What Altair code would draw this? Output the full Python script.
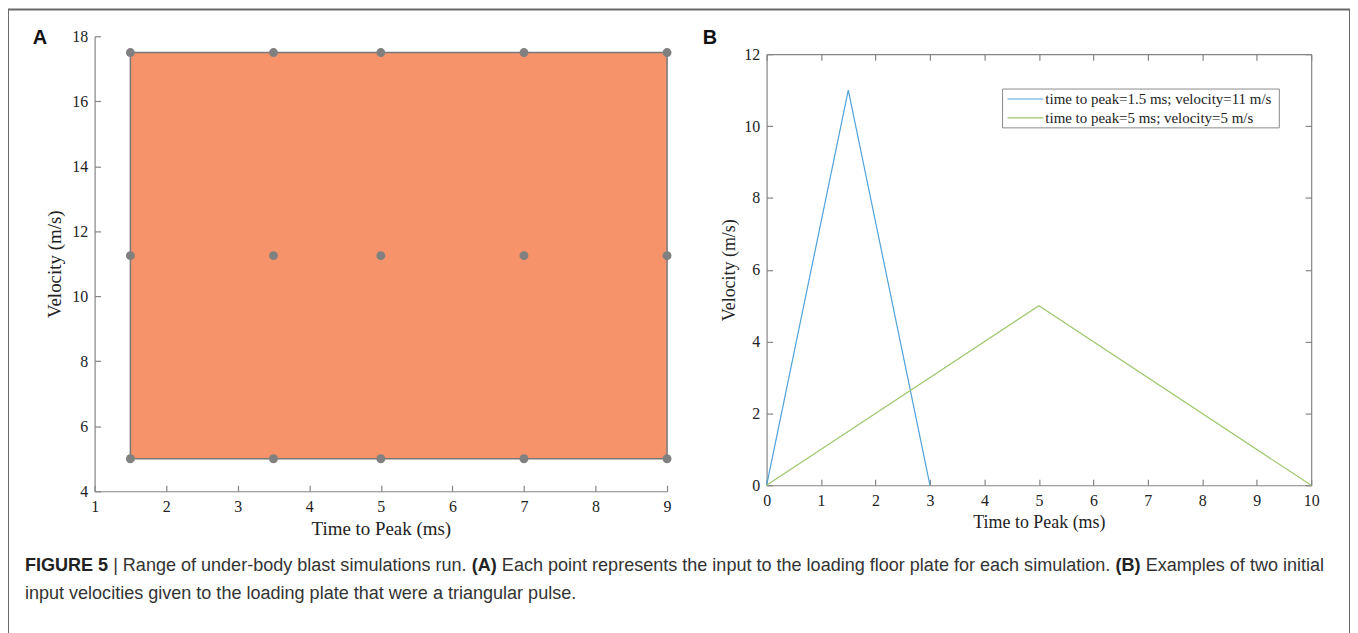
import altair as alt
import pandas as pd

# ---------------- data ----------------
# Panel A: simulation grid (time to peak, velocity)
a_times = [1.5, 3.5, 5, 7, 9]
a_velocities = [5, 11.25, 17.5]
a_xticks = [1, 2, 3, 4, 5, 6, 7, 8, 9]
a_yticks = [4, 6, 8, 10, 12, 14, 16, 18]

# Panel B: two triangular pulses
b_names = ["time to peak=1.5 ms; velocity=11 m/s", "time to peak=5 ms; velocity=5 m/s"]
b_t1 = [0, 1.5, 3]
b_v1 = [0, 11, 0]
b_t2 = [0, 5, 10]
b_v2 = [0, 5, 0]
b_colors = ["#4fa2dc", "#9dc76b"]
b_xticks = [0, 1, 2, 3, 4, 5, 6, 7, 8, 9, 10]
b_yticks = [0, 2, 4, 6, 8, 10, 12]

caption_line1 = [
    ("FIGURE 5 ", True),
    ("| Range of under-body blast simulations run. ", False),
    ("(A)", True),
    (" Each point represents the input to the loading floor plate for each simulation. ", False),
    ("(B)", True),
    (" Examples of two initial", False),
]
caption_line2 = "input velocities given to the loading plate that were a triangular pulse."

# ---------------- layout / style ----------------
W, H = 1348, 630
A_XR = [87, 662]
A_YR = [484, 27]
B_XR = [762, 1309]
B_YR = [478, 45]
AXC = "#858585"
TXC = "#222222"
SERIF = "Liberation Serif"
SANS = "Liberation Sans"
CAP_X, CAP_Y1, CAP_Y2, CAP_LINE_W = 17, 559, 587, 1305

NORMAL_W = {" ": 278, "(": 333, ")": 333, ".": 278, ",": 278, "-": 333, "|": 260,
            "a": 556, "b": 556, "c": 500, "d": 556, "e": 556, "f": 278, "g": 556, "h": 556,
            "i": 222, "j": 222, "k": 500, "l": 222, "m": 833, "n": 556, "o": 556, "p": 556,
            "q": 556, "r": 333, "s": 500, "t": 278, "u": 556, "v": 500, "w": 722, "x": 500,
            "y": 500, "z": 500, "A": 667, "B": 667, "E": 667, "F": 611, "G": 778, "I": 278,
            "R": 722, "U": 722}
BOLD_W = {" ": 278, "(": 333, ")": 333, "|": 280, "A": 722, "B": 722, "E": 667, "F": 611,
          "G": 778, "I": 278, "R": 722, "U": 722, "5": 556}


def text_units(s, bold):
    table = BOLD_W if bold else NORMAL_W
    return sum(table.get(ch, 556) for ch in s)


total_units = sum(text_units(s, b) for s, b in caption_line1)
CAP_SIZE = CAP_LINE_W * 1000 / total_units

rows = []
cx = CAP_X
for seg, bold in caption_line1:
    lead = len(seg) - len(seg.lstrip(" "))
    rows.append(dict(t=seg.strip(), px=cx + text_units(seg[:lead], bold) * CAP_SIZE / 1000,
                     py=CAP_Y1, b=bold))
    cx += text_units(seg, bold) * CAP_SIZE / 1000
rows.append(dict(t=caption_line2, px=CAP_X, py=CAP_Y2, b=False))
cap_df = pd.DataFrame(rows)

# ---------------- tables ----------------
a_pts = pd.DataFrame([(t, v) for v in a_velocities for t in a_times], columns=["t", "v"])
a_rect = pd.DataFrame({"x0": [min(a_times)], "x1": [max(a_times)],
                       "y0": [min(a_velocities)], "y1": [max(a_velocities)]})
b_df = pd.DataFrame({
    "t": b_t1 + b_t2,
    "v": b_v1 + b_v2,
    "s": [b_names[0]] * len(b_t1) + [b_names[1]] * len(b_t2),
    "i": list(range(len(b_t1))) + list(range(len(b_t2))),
})
leg_df = pd.DataFrame({"s": b_names})


def ax(**kw):
    base = dict(grid=False, domainColor=AXC, tickColor=AXC, labelColor=TXC, titleColor=TXC,
                labelFont=SERIF, titleFont=SERIF, labelFontSize=16, titleFontWeight="normal",
                labelFlush=False, labelOverlap=False, tickSize=6, domainWidth=1.2, tickWidth=1.2)
    base.update(kw)
    return alt.Axis(**base)


def sc(domain, rng):
    return alt.Scale(domain=domain, range=rng, nice=False, zero=False)


color_scale = alt.Scale(domain=b_names, range=b_colors)

# ---------------- panel A ----------------
a_rect_layer = alt.Chart(a_rect).mark_rect(fill="#f6936a", stroke="#777777", strokeWidth=1.5).encode(
    x=alt.X("x0:Q", scale=sc([1, 9], A_XR),
            axis=ax(orient="bottom", offset=-(H - A_YR[0]), values=a_xticks, ticks=False,
                    labelPadding=7, title="Time to Peak (ms)", titleFontSize=19, titlePadding=5)),
    x2="x1:Q",
    y=alt.Y("y0:Q", scale=sc([4, 18], A_YR),
            axis=ax(orient="left", offset=-A_XR[0], values=a_yticks, ticks=False,
                    labelPadding=7, title="Velocity (m/s)", titleFontSize=19, titlePadding=7)),
    y2="y1:Q",
)

a_pts_layer = alt.Chart(a_pts).mark_circle(size=80, color="#808080", opacity=1).encode(
    x=alt.X("t:Q", scale=sc([1, 9], A_XR),
            axis=ax(orient="top", offset=-A_YR[0], values=a_xticks, labels=False,
                    domain=False, title=None)),
    y=alt.Y("v:Q", scale=sc([4, 18], A_YR),
            axis=ax(orient="right", offset=-(W - A_XR[0]), values=a_yticks, labels=False,
                    domain=False, title=None)),
)

# ---------------- panel B ----------------
b_lines = alt.Chart(b_df).mark_line(strokeWidth=1.2).encode(
    x=alt.X("t:Q", scale=sc([0, 10], B_XR),
            axis=ax(orient="bottom", offset=-(H - B_YR[0]), values=b_xticks, ticks=False,
                    labelPadding=7, title="Time to Peak (ms)", titleFontSize=18, titlePadding=5)),
    y=alt.Y("v:Q", scale=sc([0, 12], B_YR),
            axis=ax(orient="left", offset=-B_XR[0], values=b_yticks, ticks=False,
                    labelPadding=7, title="Velocity (m/s)", titleFontSize=18, titlePadding=5)),
    color=alt.Color("s:N", scale=color_scale, legend=None),
    order=alt.Order("i:Q"),
)

b_ticks_in = alt.Chart(b_df).mark_point(opacity=0).encode(
    x=alt.X("t:Q", scale=sc([0, 10], B_XR),
            axis=ax(orient="top", offset=-B_YR[0], values=b_xticks, labels=False,
                    domain=False, title=None)),
    y=alt.Y("v:Q", scale=sc([0, 12], B_YR),
            axis=ax(orient="right", offset=-(W - B_XR[0]), values=b_yticks, labels=False,
                    domain=False, title=None)),
)

b_box = alt.Chart(b_df).mark_point(opacity=0).encode(
    x=alt.X("t:Q", scale=sc([0, 10], B_XR),
            axis=ax(orient="bottom", offset=-(H - B_YR[1]), values=b_xticks, labels=False,
                    domain=True, title=None)),
    y=alt.Y("v:Q", scale=sc([0, 12], B_YR),
            axis=ax(orient="left", offset=-B_XR[1], values=b_yticks, labels=False,
                    domain=True, title=None)),
)

# legend (drawn inside panel B)
leg_box = alt.Chart(pd.DataFrame({"k": [0]})).mark_rect(fill="white", stroke="#8a8a8a", strokeWidth=1).encode(
    x=alt.value(999), x2=alt.value(1277), y=alt.value(80), y2=alt.value(119)
)
leg_y = alt.Y("s:N", scale=alt.Scale(type="point", domain=b_names, range=[90, 109], padding=0), axis=None)
leg_rules = alt.Chart(leg_df).mark_rule(strokeWidth=1.2).encode(
    x=alt.value(1004), x2=alt.value(1040), y=leg_y,
    color=alt.Color("s:N", scale=color_scale, legend=None),
)
leg_text = alt.Chart(leg_df).mark_text(align="left", baseline="middle", font=SERIF, fontSize=15,
                                       color=TXC).encode(
    x=alt.value(1042), y=leg_y, text="s:N"
)

# panel letters
one = pd.DataFrame({"k": [0]})
lab_a = alt.Chart(one).mark_text(text="A", font=SANS, fontWeight="bold", fontSize=20, color="#111",
                                 align="center", baseline="middle").encode(x=alt.value(32), y=alt.value(29))
lab_b = alt.Chart(one).mark_text(text="B", font=SANS, fontWeight="bold", fontSize=20, color="#111",
                                 align="center", baseline="middle").encode(x=alt.value(705), y=alt.value(29))

# caption
cap_bold = alt.Chart(cap_df[cap_df.b]).mark_text(align="left", baseline="middle", font=SANS,
                                                 fontWeight="bold", fontSize=CAP_SIZE, color="#222").encode(
    x=alt.X("px:Q", scale=None), y=alt.Y("py:Q", scale=None), text="t:N")
cap_norm = alt.Chart(cap_df[~cap_df.b]).mark_text(align="left", baseline="middle", font=SANS,
                                                  fontSize=CAP_SIZE, color="#333").encode(
    x=alt.X("px:Q", scale=None), y=alt.Y("py:Q", scale=None), text="t:N")

chart = alt.layer(
    a_rect_layer, a_pts_layer, b_lines, b_ticks_in, b_box,
    leg_box, leg_rules, leg_text, lab_a, lab_b, cap_bold, cap_norm,
).resolve_scale(x="independent", y="independent").properties(
    width=W, height=H, padding=0
).configure_view(stroke="#6a6a6a", strokeWidth=2)

chart.save("out.html", embed_options={"renderer": "svg", "actions": False})
